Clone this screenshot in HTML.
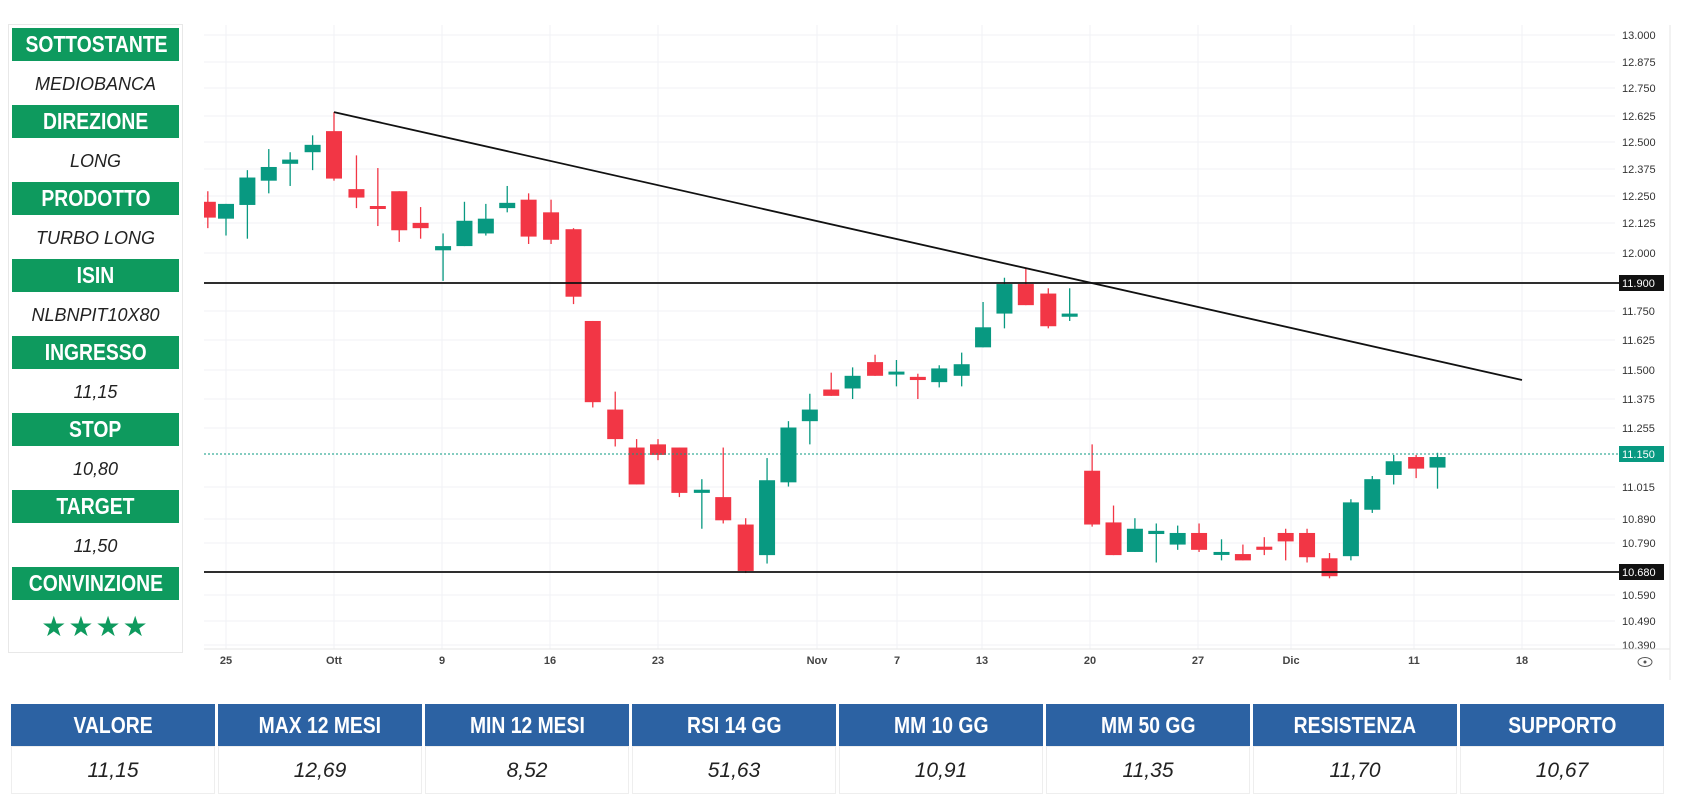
<!DOCTYPE html>
<html><head><meta charset="utf-8"><style>
body{margin:0;width:1686px;height:794px;background:#fff;overflow:hidden;font-family:"Liberation Sans",sans-serif;position:relative}
.panel{position:absolute;left:8px;top:24px;width:173px;height:627px;border:1px solid #e8e8e8;background:#fff}
.h{position:absolute;left:3px;width:167px;height:33px;background:#0e9a5e;color:#fff;font-weight:bold;font-size:23px;text-align:center;line-height:33px;white-space:nowrap}
.h span,.th span{display:inline-block;transform:scaleX(0.84)}
.v{position:absolute;left:3px;width:167px;height:44px;color:#222;font-style:italic;font-size:18px;text-align:center;line-height:44px}
.tbl{position:absolute;left:11px;top:704px;width:1656px}
.th,.td{position:absolute;width:204px;text-align:center}
.th{top:0;height:42px;background:#2c62a3;color:#fff;font-weight:bold;font-size:23px;line-height:42px;white-space:nowrap}
.td{top:42px;height:48px;font-style:italic;font-size:21px;color:#222;line-height:48px;border:1px solid #eee;box-sizing:border-box}
</style></head><body>
<div class="panel" id="panel"></div>
<svg id="c" width="1686" height="794" style="position:absolute;left:0;top:0"></svg>
<div class="tbl" id="tbl"></div>
<script>
var P=document.getElementById('panel');
var items=[["SOTTOSTANTE","MEDIOBANCA"],["DIREZIONE","LONG"],["PRODOTTO","TURBO LONG"],["ISIN","NLBNPIT10X80"],["INGRESSO","11,15"],["STOP","10,80"],["TARGET","11,50"],["CONVINZIONE",""]];
var h='';items.forEach(function(it,i){var t=3+i*77;h+='<div class="h" style="top:'+t+'px"><span>'+it[0]+'</span></div>';
if(i<7)h+='<div class="v" style="top:'+(t+34)+'px">'+it[1]+'</div>';});
h+='<div class="v" style="top:'+(3+7*77+38)+'px;font-style:normal;color:#0e9a5e;font-size:28px;letter-spacing:2px">★★★★</div>';
P.innerHTML=h;
var T=document.getElementById('tbl');var hd=["VALORE","MAX 12 MESI","MIN 12 MESI","RSI 14 GG","MM 10 GG","MM 50 GG","RESISTENZA","SUPPORTO"],vl=["11,15","12,69","8,52","51,63","10,91","11,35","11,70","10,67"];
h='';for(var i=0;i<8;i++){var l=i*207;h+='<div class="th" style="left:'+l+'px"><span>'+hd[i]+'</span></div><div class="td" style="left:'+l+'px">'+vl[i]+'</div>';}T.innerHTML=h;
var s='';
function X(xd){return 226+(xd-210)*1.0693}function Y(yd){return 283+(yd-257)*1.0547}
var labs=[["13.000",35],["12.875",62],["12.750",88],["12.625",116],["12.500",142],["12.375",169],["12.250",196],["12.125",223],["12.000",253],["11.750",311],["11.625",340],["11.500",370],["11.375",399],["11.255",428],["11.015",487],["10.890",519],["10.790",543],["10.590",595],["10.490",621],["10.390",645]];
labs.forEach(function(a){s+='<line x1="204" x2="1615" y1="'+a[1]+'" y2="'+a[1]+'" stroke="#f0f2f6"/>';s+='<text x="1622" y="'+(a[1]+4)+'" font-size="11" fill="#333">'+a[0]+'</text>';});
var dl=[["25",226],["Ott",334],["9",442],["16",550],["23",658],["Nov",817],["7",897],["13",982],["20",1090],["27",1198],["Dic",1291],["11",1414],["18",1522]];
dl.forEach(function(a){s+='<line x1="'+a[1]+'" x2="'+a[1]+'" y1="25" y2="649" stroke="#f0f2f6"/>';s+='<text x="'+a[1]+'" y="664" font-size="11" font-weight="bold" fill="#444" text-anchor="middle">'+a[0]+'</text>';});
s+='<line x1="204" x2="1670" y1="649" y2="649" stroke="#e6e6e6"/><line x1="1670" x2="1670" y1="25" y2="680" stroke="#e6e6e6"/>';
s+='<ellipse cx="1645" cy="662" rx="7" ry="4.5" fill="none" stroke="#555"/><circle cx="1645" cy="662" r="1.5" fill="#555"/>';
var C=[[193,'r',180,195,170,205],[210,'g',182,196,182,212],[230,'g',157,183,150,215],[250,'g',147,160,130,172],[270,'g',140,144,133,165],[291,'g',126,133,117,150],[311,'r',113,158,95,160],[332,'r',168,176,136,186],[352,'r',184,186,148,203],[372,'r',170,207,170,218],[392,'r',200,205,185,215],[413,'g',222,226,210,255],[433,'g',198,222,180,222],[453,'g',196,210,182,212],[473,'g',181,186,165,190],[493,'r',178,213,172,220],[514,'r',190,216,178,220],[535,'r',206,270,205,277],[553,'r',293,370,293,375],[574,'r',377,405,360,412],[594,'r',413,448,405,448],[614,'r',410,420,405,425],[634,'r',413,456,413,460],[655,'g',453,456,443,490],[675,'r',460,482,413,485],[696,'r',486,530,480,532],[716,'g',444,515,423,523],[736,'g',394,446,388,450],[756,'g',377,388,362,410],[776,'r',358,364,342,364],[796,'g',345,357,337,367],[817,'r',332,345,325,345],[837,'g',341,343,330,355],[857,'r',346,349,343,367],[877,'g',338,351,335,356],[898,'g',334,345,323,355],[918,'g',299,318,275,318],[938,'g',258,286,252,300],[958,'r',258,278,243,278],[979,'r',267,298,262,300],[999,'g',286,289,262,293],[1020,'r',435,486,410,488],[1040,'r',484,515,468,515],[1060,'g',490,512,480,512],[1080,'g',492,495,485,522],[1100,'g',494,505,487,510],[1120,'r',494,510,485,512],[1141,'g',512,513,500,520],[1161,'r',514,520,505,520],[1181,'r',507,510,498,515],[1201,'r',494,502,490,520],[1221,'r',494,517,490,522],[1242,'r',518,535,513,537],[1262,'g',465,516,462,520],[1282,'g',443,472,440,475],[1302,'g',426,439,420,448],[1323,'r',422,433,420,442],[1343,'g',422,432,418,452]];
C.forEach(function(c){var col=c[1]=='g'?'#089981':'#f23645',x=X(c[0]);var t=Y(c[2]),b=Y(c[3]);if(b-t<3)b=t+3;
s+='<line x1="'+x+'" x2="'+x+'" y1="'+Y(c[4])+'" y2="'+Y(c[5])+'" stroke="'+col+'" stroke-width="1.3"/>';
var l=Math.max(x-8,204);s+='<rect x="'+l+'" y="'+t+'" width="'+(x+8-l)+'" height="'+(b-t)+'" fill="'+col+'"/>';});
s+='<line x1="204" x2="1620" y1="283" y2="283" stroke="#111" stroke-width="1.8"/><line x1="204" x2="1620" y1="572" y2="572" stroke="#111" stroke-width="1.8"/>';
s+='<line x1="204" x2="1620" y1="454" y2="454" stroke="#089981" stroke-width="1" stroke-dasharray="2,2"/>';
s+='<line x1="'+X(311)+'" y1="'+Y(95)+'" x2="'+X(1422)+'" y2="'+Y(349)+'" stroke="#111" stroke-width="1.8"/>';
[["11.900",283,"#111"],["11.150",454,"#089981"],["10.680",572,"#111"]].forEach(function(a){s+='<rect x="1619" y="'+(a[1]-8)+'" width="45" height="16" fill="'+a[2]+'"/><text x="1622" y="'+(a[1]+4)+'" font-size="11" fill="#fff">'+a[0]+'</text>';});
document.getElementById('c').innerHTML=s;
</script>
</body></html>
